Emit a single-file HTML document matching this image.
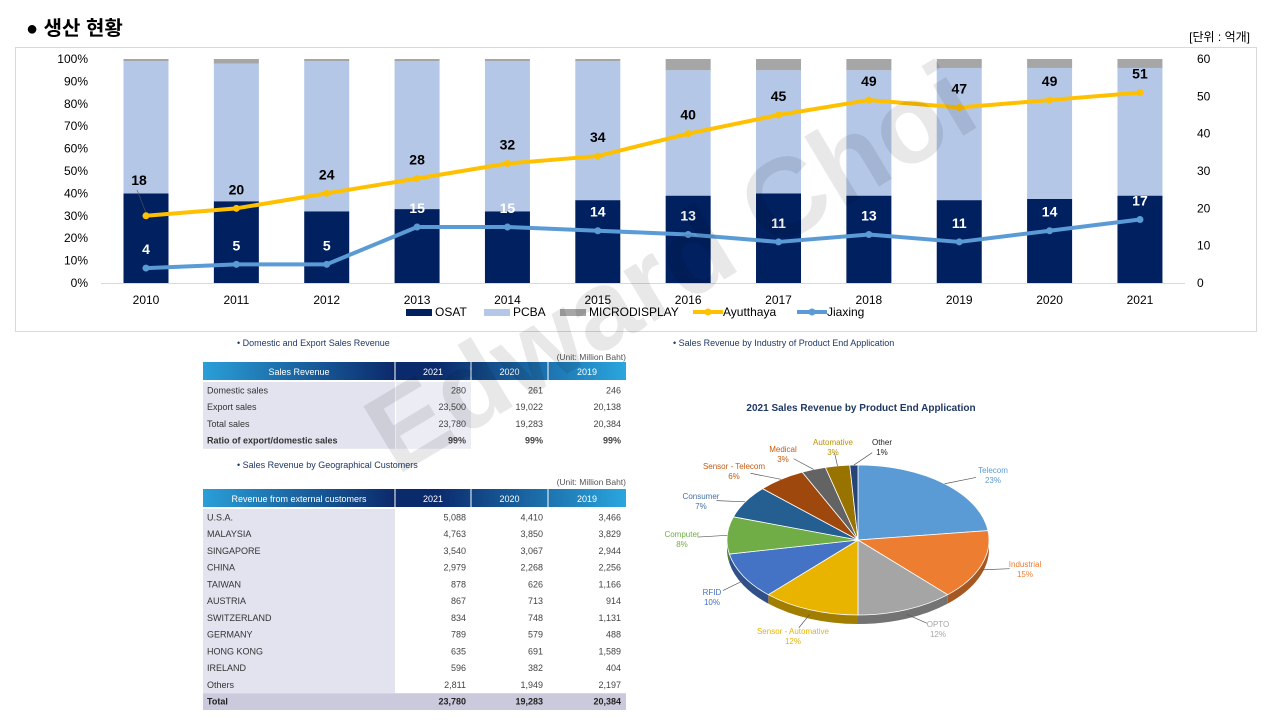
<!DOCTYPE html>
<html><head><meta charset="utf-8">
<style>
html,body{margin:0;padding:0;background:#fff;}
svg{display:block;font-family:"Liberation Sans","Noto Sans CJK KR",sans-serif;}
</style></head>
<body>
<svg id="page" width="1280" height="720" viewBox="0 0 1280 720" xmlns="http://www.w3.org/2000/svg">
  <defs>
    <linearGradient id="hdr" x1="0" x2="1" y1="0" y2="0">
      <stop offset="0" stop-color="#2a9fd8"/>
      <stop offset="0.45" stop-color="#0b2a6b"/>
      <stop offset="0.55" stop-color="#0b2a6b"/>
      <stop offset="1" stop-color="#2aa6de"/>
    </linearGradient>
  </defs>
  <text x="26" y="35" font-size="20" font-weight="bold" fill="#000">● 생산 현황</text>
  <text x="1250" y="41" font-size="12" text-anchor="end" fill="#000">[단위 : 억개]</text>
  <rect x="15.5" y="47.5" width="1241" height="284" fill="#fff" stroke="#d9d9d9"/>
  <g id="chart"></g>
  <g id="tables"></g>
  <g id="pie"></g>
  <text x="690" y="300" font-size="112" font-weight="bold" fill="rgba(0,0,0,0.09)" text-anchor="middle" transform="rotate(-31 690 300)">Edward Choi</text>
</svg>
<script>
const NS='http://www.w3.org/2000/svg';
function mk(parent,tag,attrs,txt){const e=document.createElementNS(NS,tag);for(const k in attrs)e.setAttribute(k,attrs[k]);if(txt!==undefined)e.textContent=txt;parent.appendChild(e);return e;}

// ---- Top chart data ----
const years=['2010','2011','2012','2013','2014','2015','2016','2017','2018','2019','2020','2021'];
const osatPct=[40,36.5,32,33,32,37,39,40,39,37,37.5,39];
const pcbaPct=[59,61.5,67,66,67,62,56,55,56,59,58.5,57];
const microPct=[1,2,1,1,1,1,5,5,5,4,4,4];
const ayutthaya=[18,20,24,28,32,34,40,45,49,47,49,51];
const jiaxing=[4,5,5,15,15,14,13,11,13,11,14,17];
const leftTicks=['0%','10%','20%','30%','40%','50%','60%','70%','80%','90%','100%'];
const rightTicks=['0','10','20','30','40','50','60'];

const plotTop=59,plotBot=283;
const xC=i=>146+i*90.36;
const yPct=v=>plotBot-(v/100)*(plotBot-plotTop);
const yR=v=>plotBot-(v/60)*(plotBot-plotTop);
const chart=document.getElementById('chart');

leftTicks.forEach((t,i)=>{
  const el=mk(chart,'text',{x:88,y:yPct(i*10)+4,'font-size':12,'text-anchor':'end',fill:'#000'},t);
  
  
});
rightTicks.forEach((t,i)=>{
  const el=mk(chart,'text',{x:1197,y:yR(i*10)+4,'font-size':12,fill:'#000'},t);
  
  
});
const ax=mk(chart,'line',{x1:101,x2:1185,y1:plotBot+0.5,y2:plotBot+0.5,stroke:'#d9d9d9'});



const bw=45;
years.forEach((y,i)=>{
  const x=xC(i)-bw/2;
  let base=0;
  [[osatPct,'#002060','bar-osat'],[pcbaPct,'#b4c7e7','bar-pcba'],[microPct,'#a6a6a6','bar-microdisplay']].forEach(([arr,c,n])=>{
    const y0=yPct(base),y1=yPct(base+arr[i]);
    const r=mk(chart,'rect',{x:x,y:y1,width:bw,height:y0-y1,fill:c});
    
    
    base+=arr[i];
  });
  const lbl=mk(chart,'text',{x:xC(i),y:304,'font-size':12,'text-anchor':'middle',fill:'#000'},y);
  
  
});

function line(arr,color,name,labelColor){
  const pts=arr.map((v,i)=>xC(i)+','+yR(v)).join(' ');
  const pl=mk(chart,'polyline',{points:pts,fill:'none',stroke:color,'stroke-width':4,'stroke-linejoin':'round'});
  
  
  arr.forEach((v,i)=>{
    const c=mk(chart,'circle',{cx:xC(i),cy:yR(v),r:3.5,fill:color});
    
    
    let ly=yR(v)-14;
    if(name==='ayutthaya'&&i===0){ly=yR(v)-31;}
    const lx=(name==='ayutthaya'&&i===0)?xC(i)-7:xC(i);
    const t=mk(chart,'text',{x:lx,y:ly,'font-size':14,'font-weight':'bold','text-anchor':'middle',fill:labelColor},String(v));
    
    
  });
}
mk(chart,'line',{x1:xC(0)-9,y1:yR(18)-26,x2:xC(0),y2:yR(18)-3,stroke:'#595959','stroke-width':0.6});
line(ayutthaya,'#ffc000','ayutthaya','#000');
line(jiaxing,'#5b9bd5','jiaxing','#fff');

// legend
const legend=mk(chart,'g',{});


[['OSAT','#002060',406,'rect'],['PCBA','#b4c7e7',484,'rect'],['MICRODISPLAY','#a6a6a6',560,'rect'],['Ayutthaya','#ffc000',693,'line'],['Jiaxing','#5b9bd5',797,'line']].forEach(([n,c,x,k])=>{
  const g=mk(legend,'g',{});
  
  
  if(k==='rect') mk(g,'rect',{x:x,y:309,width:26,height:7,fill:c});
  else {mk(g,'line',{x1:x,x2:x+30,y1:312,y2:312,stroke:c,'stroke-width':4});mk(g,'circle',{cx:x+15,cy:312,r:3.5,fill:c});}
  mk(g,'text',{x:x+(k==='rect'?29:30),y:316,'font-size':12,fill:'#000'},n);
});

// ---- Tables ----
const tables=document.getElementById('tables');
const colX=[203,395,471,548,626];
function table(title,titleY,unitY,hdrY,hdrLabel,rows,rowH,totalRow,shade2021,name){
  const g=mk(tables,'g',{});
  
  
  mk(g,'text',{x:237,y:titleY,'font-size':9,fill:'#1f3864'},'•  '+title);
  mk(g,'text',{x:626,y:unitY,'font-size':8.5,fill:'#555','text-anchor':'end'},'(Unit: Million Baht)');
  mk(g,'rect',{x:203,y:hdrY,width:423,height:18,fill:'url(#hdr)'});
  for(let c=1;c<4;c++) mk(g,'line',{x1:colX[c],x2:colX[c],y1:hdrY,y2:hdrY+18,stroke:'#fff','stroke-width':1});
  [hdrLabel,'2021','2020','2019'].forEach((h,c)=>mk(g,'text',{x:(colX[c]+colX[c+1])/2,y:hdrY+13,'font-size':9,fill:'#fff','text-anchor':'middle'},h));
  const top=hdrY+20;
  mk(g,'rect',{x:203,y:top,width:192,height:rowH*rows.length,fill:'#e3e3ef'});
  if(shade2021) mk(g,'rect',{x:396,y:top,width:75,height:rowH*rows.length,fill:'#ececf4'});
  rows.forEach((r,i)=>{
    const y=top+i*rowH+rowH/2+3;
    const bold=r[4]?'bold':'normal';
    mk(g,'text',{x:207,y:y,'font-size':9,fill:'#333','font-weight':bold},r[0]);
    for(let c=1;c<4;c++) mk(g,'text',{x:colX[c+1]-5,y:y,'font-size':9,fill:'#444','text-anchor':'end','font-weight':bold},r[c]);
  });
  if(totalRow){
    const ty=top+rows.length*rowH;
    mk(g,'rect',{x:203,y:ty,width:423,height:rowH,fill:'#cacadc'});
    mk(g,'text',{x:207,y:ty+rowH/2+3,'font-size':9,fill:'#222','font-weight':'bold'},totalRow[0]);
    for(let c=1;c<4;c++) mk(g,'text',{x:colX[c+1]-5,y:ty+rowH/2+3,'font-size':9,fill:'#222','text-anchor':'end','font-weight':'bold'},totalRow[c]);
  }
}
table('Domestic and Export Sales Revenue',346,360,362,'Sales Revenue',[
  ['Domestic sales','280','261','246'],
  ['Export sales','23,500','19,022','20,138'],
  ['Total sales','23,780','19,283','20,384'],
  ['Ratio of export/domestic sales','99%','99%','99%',true]],16.7,null,true,'domestic-export-table');
table('Sales Revenue by Geographical Customers',468,485,489,'Revenue from external customers',[
  ['U.S.A.','5,088','4,410','3,466'],['MALAYSIA','4,763','3,850','3,829'],['SINGAPORE','3,540','3,067','2,944'],
  ['CHINA','2,979','2,268','2,256'],['TAIWAN','878','626','1,166'],['AUSTRIA','867','713','914'],
  ['SWITZERLAND','834','748','1,131'],['GERMANY','789','579','488'],['HONG KONG','635','691','1,589'],
  ['IRELAND','596','382','404'],['Others','2,811','1,949','2,197']],16.75,['Total','23,780','19,283','20,384'],false,'geographical-table');

// ---- Pie ----
const pieLabels=['Telecom','Industrial','OPTO','Sensor - Automative','RFID','Computer','Consumer','Sensor - Telecom','Medical','Automative','Other'];
const pieValues=[23,15,12,12,10,8,7,6,3,3,1];
const pieColors=['#5b9bd5','#ed7d31','#a5a5a5','#e8b400','#4472c4','#70ad47','#255e91','#9e480e','#636363','#997300','#264478'];
const pieLabelColors=['#5b9bd5','#ed7d31','#a5a5a5','#e8b400','#4472c4','#70ad47','#44719e','#c55a11','#c55a11','#bf9000','#222'];
const labelX=[993,1025,938,793,712,682,701,734,783,833,882];
const labelY=[470,564,624,631,592,534,496,466,449,442,442];
const pie=document.getElementById('pie');
mk(pie,'text',{x:673,y:346,'font-size':9,fill:'#1f3864'},'•  Sales Revenue by Industry of Product End Application');
const pt=mk(pie,'text',{x:861,y:411,'font-size':10,'font-weight':'bold',fill:'#1f3864','text-anchor':'middle'},'2021 Sales Revenue by Product End Application');


const cx=858,cy=540,rx=131,ry=75,depth=9;
const total=pieValues.reduce((a,b)=>a+b,0);
function pt2(a,dy){return [cx+rx*Math.sin(a),cy+dy-ry*Math.cos(a)];}
function shade(hex,f){const n=parseInt(hex.slice(1),16);const r=(n>>16)*f,g=((n>>8)&255)*f,b=(n&255)*f;return 'rgb('+[r,g,b].map(Math.round).join(',')+')';}
let acc=0;
pieValues.forEach((v,i)=>{
  const a0=acc/total*2*Math.PI,a1=(acc+v)/total*2*Math.PI;acc+=v;
  const lo=Math.max(a0,Math.PI/2),hi=Math.min(a1,3*Math.PI/2);
  if(hi>lo){
    const s=pt2(lo,0),e=pt2(hi,0),s2=pt2(lo,depth),e2=pt2(hi,depth);
    const d=`M${s[0]},${s[1]} A${rx},${ry} 0 0 1 ${e[0]},${e[1]} L${e2[0]},${e2[1]} A${rx},${ry} 0 0 0 ${s2[0]},${s2[1]} Z`;
    const p=mk(pie,'path',{d:d,fill:shade(pieColors[i],0.7)});
    
    
  }
});
acc=0;
pieValues.forEach((v,i)=>{
  const a0=acc/total*2*Math.PI,a1=(acc+v)/total*2*Math.PI;acc+=v;
  const s=pt2(a0,0),e=pt2(a1,0);
  const large=(a1-a0)>Math.PI?1:0;
  const p=mk(pie,'path',{d:`M${cx},${cy} L${s[0]},${s[1]} A${rx},${ry} 0 ${large} 1 ${e[0]},${e[1]} Z`,fill:pieColors[i],stroke:'#fff','stroke-width':0.8});
  
  
  const am=(a0+a1)/2;
  const edge=pt2(am,Math.cos(am)<0?depth*0.5:0);
  const lx=labelX[i],ly=labelY[i];
  const tx=lx+(edge[0]-lx)*0.35, ty=(ly+4)+(edge[1]-ly-4)*0.35;
  mk(pie,'line',{x1:edge[0],y1:edge[1],x2:tx,y2:ty,stroke:'#595959','stroke-width':0.7});
  const t=mk(pie,'text',{x:lx,y:ly+3,'font-size':8,fill:pieLabelColors[i],'text-anchor':'middle'});
  
  
  mk(t,'tspan',{x:lx,dy:0},pieLabels[i]);
  mk(t,'tspan',{x:lx,dy:10},v+'%');
});
</script>
</body></html>
